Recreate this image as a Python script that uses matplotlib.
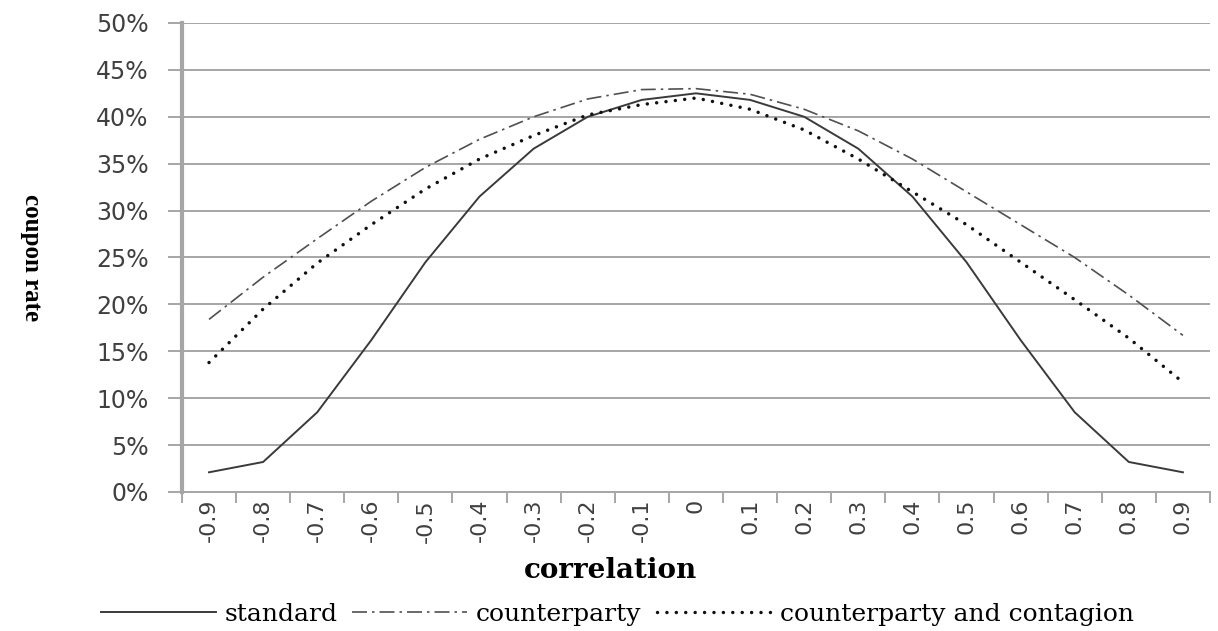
import numpy as np
import matplotlib
matplotlib.use('Agg')
import matplotlib.pyplot as plt
from matplotlib.ticker import FixedLocator, PercentFormatter

# correlation categories
corr_labels = ['-0.9', '-0.8', '-0.7', '-0.6', '-0.5', '-0.4', '-0.3', '-0.2', '-0.1', '0',
               '0.1', '0.2', '0.3', '0.4', '0.5', '0.6', '0.7', '0.8', '0.9']

# coupon rates (%)
standard = [2.1, 3.2, 8.5, 16.2, 24.5, 31.5, 36.6, 40.0, 41.8, 42.5,
            41.8, 40.0, 36.6, 31.5, 24.5, 16.2, 8.5, 3.2, 2.1]
counterparty = [18.4, 22.9, 27.0, 31.0, 34.6, 37.6, 40.0, 41.9, 42.9, 43.0,
                42.4, 40.8, 38.5, 35.5, 32.0, 28.5, 25.0, 21.0, 16.7]
contagion = [13.8, 19.5, 24.4, 28.5, 32.3, 35.5, 38.0, 40.2, 41.3, 42.0,
             40.8, 38.6, 35.5, 32.0, 28.5, 24.5, 20.5, 16.4, 11.7]

y_ticks = np.arange(0, 55, 5)

fig = plt.figure(figsize=(12.18, 6.31), dpi=100)
ax = fig.add_axes([0.1494, 0.2203, 0.8440, 0.7433])

x = np.arange(len(corr_labels))
ax.plot(x, standard, color='#3a3a3a', lw=1.4, label='standard')
ax.plot(x, counterparty, color='#505050', lw=1.2, linestyle=(0, (9, 3, 1.5, 3)),
        label='counterparty')
ax.plot(x, contagion, color='#111111', lw=2.5, linestyle=(0, (0.01, 2.7)),
        dash_capstyle='round', label='counterparty and contagion')

ax.set_xlim(-0.5, len(corr_labels) - 0.5)
ax.set_ylim(0, 50)

# y axis
ax.set_yticks(y_ticks)
ax.yaxis.set_major_formatter(PercentFormatter(decimals=0))
ax.grid(axis='y', color='#a6a6a6', lw=1.4)
ax.set_axisbelow(True)
ax.tick_params(axis='y', length=10, width=1.4, color='#a6a6a6', pad=14,
               labelsize=17, labelcolor='#404040')

# x axis: labels at the categories, ticks between them
ax.set_xticks(x)
ax.set_xticklabels(corr_labels, rotation=90)
ax.xaxis.set_minor_locator(FixedLocator(np.arange(-0.5, len(corr_labels), 1)))
ax.tick_params(axis='x', which='major', length=0, pad=5, labelsize=16, labelcolor='#404040')
ax.tick_params(axis='x', which='minor', length=8, width=1.4, color='#a6a6a6')

for s in ['top', 'right']:
    ax.spines[s].set_visible(False)
ax.spines['left'].set_color('#a6a6a6')
ax.spines['left'].set_linewidth(3)
ax.spines['bottom'].set_color('#a6a6a6')
ax.spines['bottom'].set_linewidth(1.4)

ax.set_xlabel('correlation', family='DejaVu Serif', fontweight='bold', fontsize=20)
ax.xaxis.set_label_coords(0.417, -0.138)
ax.set_ylabel('coupon rate', family='Liberation Serif', fontweight='bold', fontsize=18,
              rotation=270, va='center')
ax.yaxis.set_label_coords(-0.146, 0.5)

fig.legend(loc='center', bbox_to_anchor=(0.507, 0.026), ncol=3, frameon=False,
           prop={'family': 'DejaVu Serif', 'size': 18}, handlelength=4.6,
           handletextpad=0.35, columnspacing=0.6)

fig.savefig('out.png', dpi=100)
